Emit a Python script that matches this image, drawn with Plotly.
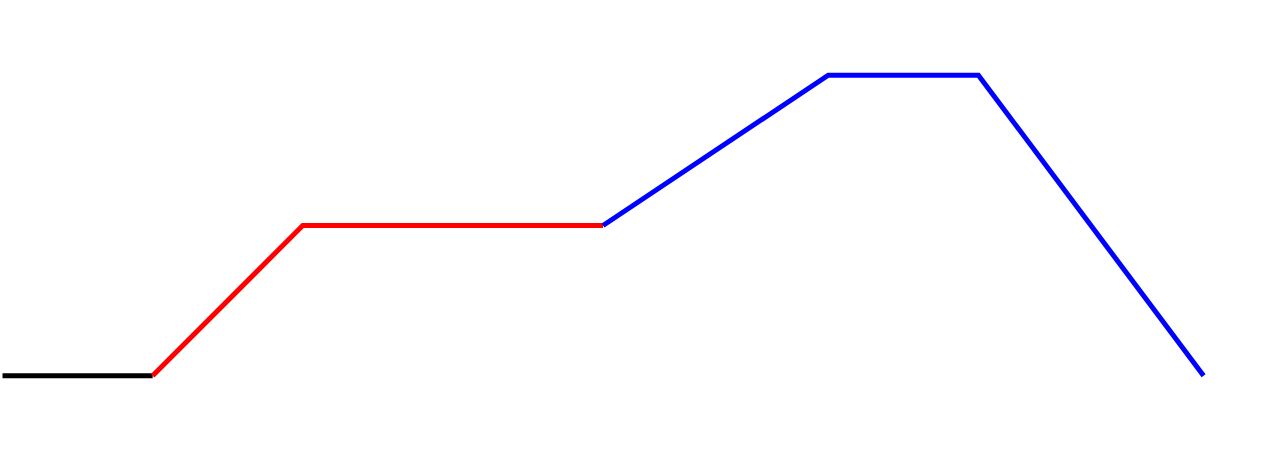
import plotly.graph_objects as go

black_x = [0, 1]
black_y = [0, 0]
red_x = [1, 2, 4]
red_y = [0, 1, 1]
blue_x = [4, 5.5, 6.5, 8]
blue_y = [1, 2, 2, 0]

fig = go.Figure()
for xs, ys, c in [(black_x, black_y, "black"), (red_x, red_y, "red"), (blue_x, blue_y, "blue")]:
    fig.add_trace(go.Scatter(x=xs, y=ys, mode="lines", line=dict(color=c, width=5), showlegend=False, hoverinfo="skip"))

fig.update_layout(
    width=1280, height=451,
    margin=dict(l=0, r=0, t=0, b=0),
    paper_bgcolor="white", plot_bgcolor="white",
    xaxis=dict(range=[-0.0167, 8.509], visible=False, fixedrange=True),
    yaxis=dict(range=[-0.5, 2.5], visible=False, fixedrange=True),
)
fig.write_html("out.html", config={"displayModeBar": False},
               post_script="document.body.style.margin='0';document.body.style.overflow='hidden';")
